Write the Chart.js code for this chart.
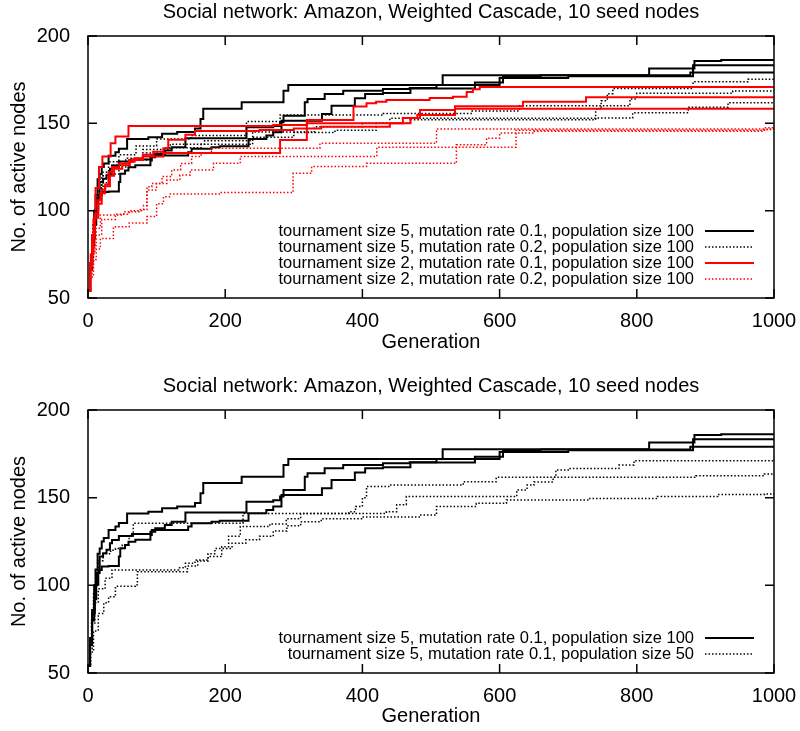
<!DOCTYPE html>
<html>
<head>
<meta charset="utf-8">
<title>Amazon, Weighted Cascade, 10 seed nodes</title>
<script src="https://cdn.jsdelivr.net/npm/chart.js@4.4.1/dist/chart.umd.min.js"></script>
<style>
  body { margin: 0; background: #fff; }
  canvas { display: block; }
</style>
</head>
<body>
<canvas id="chartTop" width="800" height="366"></canvas>
<canvas id="chartBottom" width="800" height="365"></canvas>
<script>
const chartTitle = 'Social network: Amazon, Weighted Cascade, 10 seed nodes';
const xTitle = 'Generation';
const yTitle = 'No. of active nodes';
const xTicks = [0, 200, 400, 600, 800, 1000];
const yTicks = [50, 100, 150, 200];

const legendTop = [
  'tournament size 5, mutation rate 0.1, population size 100',
  'tournament size 5, mutation rate 0.2, population size 100',
  'tournament size 2, mutation rate 0.1, population size 100',
  'tournament size 2, mutation rate 0.2, population size 100'
];
const legendBottom = [
  'tournament size 5, mutation rate 0.1, population size 100',
  'tournament size 5, mutation rate 0.1, population size 50'
];

// [generation, active nodes] at each improvement

// tournament 5, mutation 0.1, population 100 (shown in both panels)
const t5m01p100_a = [[0,54],[3,70],[6,86],[9,100],[11,109],[14,118],[17,121],[20,125],[23,127],[30,131.5],[40,133.5],[45,135.5],[57,141],[88,142],[108,144],[130,145],[156,147],[164,152.5],[168,158.3],[224,162],[285,168.6],[292,172],[517,177.6],[818,181.4],[884,185.7],[923,186.2],[1000,186.2]];
const t5m01p100_b = [[0,54],[3,68],[6,84],[10,100],[13,107],[17,116.4],[22,118.3],[27,120.3],[32,124],[35,125.9],[45,128.2],[64,129.3],[91,130.6],[98,132.5],[112,134.4],[122,136.3],[142,141.5],[231,147.7],[270,148.5],[280,150.6],[285,154.4],[316,162],[320,163.9],[345,166.8],[372,168.6],[430,169.6],[469,170.2],[508,172],[600,176],[700,177],[882,183.3],[1000,183.3]];
const t5m01p100_c = [[0,54],[3,66],[6,80],[9,92],[12,100.4],[15,108.8],[20,110.7],[30,111],[45,116.4],[47,121.1],[54,123],[59,124.9],[69,126],[91,128.7],[93,131.6],[146,133.5],[151,135.4],[180,136.3],[192,136.9],[234,141.1],[260,143],[270,144.9],[282,151.5],[341,155.3],[355,160.1],[389,164.3],[404,166.8],[430,167.4],[470,170],[564,173.4],[605,176.8],[660,177.5],[878,179.1],[1000,179.1]];

// tournament 5, mutation 0.2, population 100
const t5m02p100_a = [[0,54],[3,70],[7,92],[12,108],[20,120],[35,126],[55,130],[80,135],[120,138],[170,140],[240,145],[330,148],[400,150],[440,152.9],[731,152.9],[740,158],[748,163],[757,167],[765,169.9],[882,173.8],[962,175.2],[1000,175.2]];
const t5m02p100_b = [[0,54],[3,68],[6,86],[10,102],[14,113],[22,122],[30,128],[45,132],[70,137],[100,141],[150,143],[231,151],[280,154.8],[430,155.7],[560,157],[629,160],[790,164],[800,167.2],[940,168.5],[1000,168.5]];
const t5m02p100_c = [[0,54],[3,70],[8,95],[12,106],[20,116],[30,121],[45,125],[60,129],[85,133],[110,136],[165,138],[240,142],[300,144.7],[360,146],[420,150],[470,152],[740,153],[794,156.1],[875,159.2],[933,161.8],[1000,161.8]];

// tournament 2, mutation 0.1, population 100
const t2m01p100_a = [[0,54],[3,68],[6,84],[9,96],[15,104],[20,112],[25,115],[30,122],[35,125],[45,127],[60,129],[80,131],[110,133],[280,140.5],[319,151.9],[387,159.6],[406,161.5],[420,162.4],[435,163.4],[498,164.5],[532,165.2],[552,168],[561,169.5],[571,170.8],[1000,170.8]];
const t2m01p100_b = [[0,54],[4,75],[8,95],[11,113],[16,125],[21,131],[33,138.6],[40,142.4],[59,148.5],[270,149],[319,150],[459,153],[480,154.8],[535,158.4],[1000,158.4]];
const t2m01p100_c = [[0,54],[3,70],[6,86],[10,98],[14,106],[18,110],[25,114],[32,120],[38,124],[50,126],[61,128],[68,130],[80,132],[95,133.8],[110,135.7],[117,140.6],[142,143.5],[156,145.6],[250,146.2],[300,147],[340,148],[440,150],[470,153],[484,157.6],[535,159.8],[634,162.4],[726,165],[1000,165]];

// tournament 2, mutation 0.2, population 100
const t2m02p100_a = [[0,54],[3,64],[6,76],[10,86],[20,95],[40,98],[60,100],[81,103],[86,113.7],[93,115.6],[108,119.5],[122,123.3],[135,127],[151,131],[165,133],[180,135.7],[338,138.6],[508,146.8],[985,147.5],[1000,147.5]];
const t2m02p100_b = [[0,54],[3,66],[7,80],[12,90],[18,97.5],[52,99.4],[76,100.5],[86,111.8],[100,115.6],[115,117.5],[134,120.4],[149,123.3],[183,127.1],[222,131],[421,136.3],[624,146],[990,146.8],[1000,146.8]];
const t2m02p100_c = [[0,54],[4,62],[8,72],[12,78],[18,84],[37,90.8],[60,93],[86,96.6],[100,104],[110,108],[120,109.5],[193,110.4],[299,121.4],[326,125.3],[406,127.1],[537,137.7],[581,141.5],[600,144.4],[650,145.5],[985,146.5],[1000,146.5]];

// tournament 5, mutation 0.1, population 50
const t5m01p50_a = [[0,54],[3,64],[6,78],[10,90],[15,98],[25,104],[35,108.8],[132,110],[142,112.6],[156,114.4],[175,116.4],[195,122],[205,128],[222,133.5],[265,135],[289,138],[310,141],[435,142],[450,146],[464,150.6],[610,150.6],[625,154.4],[640,157.2],[650,159],[678,161.6],[682,165.8],[700,166.7],[774,168.6],[796,171.1],[1000,171.1]];
const t5m01p50_b = [[0,54],[3,66],[5,80],[8,95],[11,108],[15,114],[22,118],[33,120],[40,121],[50,123],[60,128],[66,135.4],[226,141],[380,142],[390,145],[400,150],[406,156.4],[440,157.2],[547,159.1],[595,161.6],[886,162.5],[986,163.5],[1000,163.5]];
const t5m01p50_c = [[0,54],[4,62],[8,74],[15,84],[23,90],[30,93.5],[40,99.5],[69,100.3],[72,107.8],[140,107.8],[145,111],[160,113.9],[175,118],[185,121],[210,124],[230,126],[250,128],[270,131],[290,134],[310,136.3],[340,138],[400,139],[484,140.1],[508,144.9],[566,146.8],[610,148.7],[730,149.5],[830,150.6],[918,151.8],[986,152.1],[1000,152.1]];

const fontFamily = '"Liberation Sans", Arial, Helvetica, sans-serif';
const lineStyles = {
  solid: { borderWidth: 2, borderDash: [] },
  dotted: { borderWidth: 1.5, borderDash: [1.5, 2] }
};

function buildDatasets(groups) {
  const sets = [];
  groups.forEach(g => {
    g.runs.forEach(run => {
      sets.push({
        data: run.map(p => ({ x: p[0], y: p[1] })),
        borderColor: g.color,
        borderWidth: lineStyles[g.kind].borderWidth,
        borderDash: lineStyles[g.kind].borderDash,
        stepped: true,
        pointRadius: 0,
        fill: false
      });
    });
  });
  // gnuplot draws later curves on top; chart.js puts the first dataset on top
  return sets.reverse();
}

// box with inward ticks on all four sides plus the key, gnuplot style
const gnuplotFrame = {
  id: 'gnuplotFrame',
  afterDatasetsDraw(chart, args, opts) {
    const { ctx, chartArea: a } = chart;
    const sx = chart.scales.x, sy = chart.scales.y;
    ctx.save();
    ctx.strokeStyle = '#000';
    ctx.lineWidth = 1.5;
    ctx.setLineDash([]);
    ctx.beginPath();
    xTicks.forEach(v => {
      const px = sx.getPixelForValue(v);
      ctx.moveTo(px, a.bottom); ctx.lineTo(px, a.bottom - 9);
      ctx.moveTo(px, a.top); ctx.lineTo(px, a.top + 9);
    });
    yTicks.forEach(v => {
      const py = sy.getPixelForValue(v);
      ctx.moveTo(a.left, py); ctx.lineTo(a.left + 9, py);
      ctx.moveTo(a.right, py); ctx.lineTo(a.right - 9, py);
    });
    ctx.stroke();
    ctx.strokeRect(a.left, a.top, a.right - a.left, a.bottom - a.top);

    ctx.font = '16.5px ' + fontFamily;
    ctx.textAlign = 'right';
    ctx.textBaseline = 'middle';
    ctx.fillStyle = '#000';
    const n = opts.items.length;
    opts.items.forEach((it, i) => {
      const y = a.bottom - 19 - (n - 1 - i) * 16;
      const xr = a.right - 80;
      ctx.fillText(it.label, xr, y);
      ctx.strokeStyle = it.color;
      ctx.lineWidth = lineStyles[it.kind].borderWidth;
      ctx.setLineDash(lineStyles[it.kind].borderDash);
      ctx.beginPath();
      ctx.moveTo(xr + 11, y);
      ctx.lineTo(xr + 60, y);
      ctx.stroke();
    });
    ctx.restore();
  }
};

function makeChart(id, groups, labels, pad) {
  const items = groups.map((g, i) => ({ label: labels[i], color: g.color, kind: g.kind }));
  return new Chart(document.getElementById(id), {
    type: 'line',
    data: { datasets: buildDatasets(groups) },
    options: {
      responsive: false,
      animation: false,
      events: [],
      layout: { padding: { left: 0, right: 26, top: 0, bottom: 0 } },
      plugins: {
        legend: { display: false },
        tooltip: { enabled: false },
        title: {
          display: true,
          text: chartTitle,
          fullSize: false,
          color: '#000',
          font: { family: fontFamily, size: 20, weight: 'normal' },
          padding: { top: pad.titleTop, bottom: pad.titleBottom }
        },
        gnuplotFrame: { items: items }
      },
      scales: {
        x: {
          type: 'linear',
          min: 0,
          max: 1000,
          afterBuildTicks: s => { s.ticks = xTicks.map(v => ({ value: v })); },
          afterFit: s => { s.height = pad.xHeight; },
          grid: { display: false },
          border: { display: false },
          ticks: { color: '#000', padding: 3, maxRotation: 0, font: { family: fontFamily, size: 20 }, callback: v => String(v) },
          title: {
            display: true,
            text: xTitle,
            color: '#000',
            font: { family: fontFamily, size: 20 },
            padding: { top: 0, bottom: pad.xTitleBottom }
          }
        },
        y: {
          type: 'linear',
          min: 50,
          max: 200,
          afterBuildTicks: s => { s.ticks = yTicks.map(v => ({ value: v })); },
          afterFit: s => { s.width = 88; },
          grid: { display: false },
          border: { display: false },
          ticks: { color: '#000', padding: 10, font: { family: fontFamily, size: 20 }, callback: v => String(v) },
          title: {
            display: true,
            text: yTitle,
            color: '#000',
            font: { family: fontFamily, size: 20 },
            padding: { top: 7, bottom: 0 }
          }
        }
      }
    },
    plugins: [gnuplotFrame]
  });
}

makeChart('chartTop', [
  { runs: [t5m01p100_a, t5m01p100_b, t5m01p100_c], color: '#000000', kind: 'solid' },
  { runs: [t5m02p100_a, t5m02p100_b, t5m02p100_c], color: '#000000', kind: 'dotted' },
  { runs: [t2m01p100_a, t2m01p100_b, t2m01p100_c], color: '#ff0000', kind: 'solid' },
  { runs: [t2m02p100_a, t2m02p100_b, t2m02p100_c], color: '#ff0000', kind: 'dotted' }
], legendTop, { titleTop: 0, titleBottom: 12, xHeight: 68, xTitleBottom: 12 });

makeChart('chartBottom', [
  { runs: [t5m01p100_a, t5m01p100_b, t5m01p100_c], color: '#000000', kind: 'solid' },
  { runs: [t5m01p50_a, t5m01p50_b, t5m01p50_c], color: '#000000', kind: 'dotted' }
], legendBottom, { titleTop: 8, titleBottom: 12, xHeight: 58, xTitleBottom: 3 });
</script>
</body>
</html>
